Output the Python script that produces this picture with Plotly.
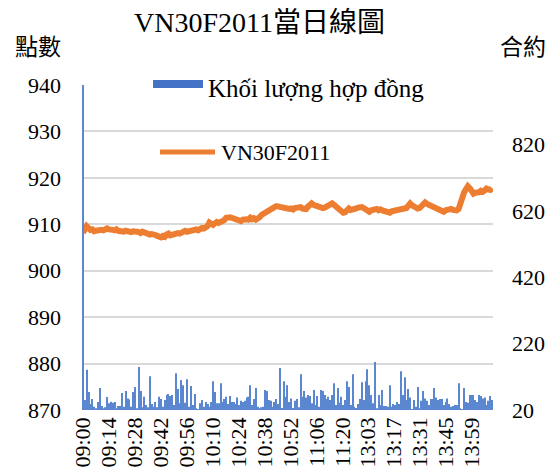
import plotly.graph_objects as go

# ---------------- data ----------------
morning = [f"{h:02d}:{m:02d}" for h in (9, 10, 11) for m in range(60) if not (h == 11 and m >= 30)]
afternoon = [f"{h:02d}:{m:02d}" for h in (13, 14) for m in range(60) if not (h == 14 and m > 10)]
times = morning + afternoon

tick_labels = ["09:00", "09:14", "09:28", "09:42", "09:56", "10:10", "10:24", "10:38",
               "10:52", "11:06", "11:20", "13:03", "13:17", "13:31", "13:45", "13:59"]

price = [
    908.2, 909.3, 909.6, 909.2, 908.8, 908.9, 908.5, 908.6, 908.7, 908.9,
    908.8, 908.7, 909.0, 909.1, 908.9, 909.0, 908.8, 908.7, 908.9, 908.6,
    908.5, 908.7, 908.4, 908.6, 908.4, 908.5, 908.3, 908.5, 908.6, 908.4,
    908.3, 908.1, 908.4, 908.2, 908.0, 907.9, 907.8, 907.9, 907.6, 907.7,
    907.5, 907.4, 907.2, 907.5, 907.3, 907.8, 908.0, 907.6, 907.8, 908.0,
    907.9, 908.1, 908.0, 908.2, 908.4, 908.6, 908.4, 908.5, 908.7, 908.6,
    908.8, 908.9, 908.7, 909.0, 909.2, 909.1, 909.4, 909.6, 910.4, 910.1,
    909.9, 910.2, 910.5, 910.3, 910.4, 910.6, 910.9, 911.4, 911.6, 911.5,
    911.4, 911.2, 911.0, 910.8, 910.9, 910.7, 911.0, 911.2, 911.1, 911.0,
    911.4, 911.1, 911.3, 911.0, 911.1, 911.5, 912.0, 912.3, 912.5, 912.7,
    913.0, 913.2, 913.5, 913.7, 913.9, 913.8, 913.6, 913.5, 913.3, 913.2,
    913.1, 913.3, 913.4, 913.2, 913.5, 913.6, 913.5, 913.7, 913.4, 913.2,
    913.3, 913.8, 914.3, 914.5, 914.2, 914.0, 913.8, 913.6, 913.7, 913.5,
    913.6, 913.9, 914.1, 914.3, 914.5, 914.2, 913.8, 913.5, 913.2, 912.8,
    912.5, 912.6, 913.0, 913.4, 913.1, 913.2, 913.0, 913.4, 913.6, 913.8,
    913.7, 913.5, 913.2, 912.9, 912.7, 913.0, 913.2, 913.4, 913.3, 913.0,
    913.2, 913.0, 912.8, 912.6, 912.4, 912.5, 912.8, 912.9, 913.1, 913.2,
    913.1, 913.3, 913.2, 913.4, 913.5, 914.0, 914.5, 914.1, 913.8, 913.6,
    913.4, 913.5, 913.8, 914.3, 914.7, 914.4, 914.2, 914.0, 913.9, 913.8,
    913.6, 913.4, 913.1, 912.9, 912.7, 913.0, 913.2, 913.4, 913.3, 913.1,
    913.0, 913.0, 913.3, 914.5, 916.3, 916.9, 917.6, 918.2, 917.8, 917.0,
    916.6, 916.8, 916.7, 916.9, 917.2, 917.0, 917.3, 917.7, 917.5, 917.4,
    917.8,
]

volume = [
    1100, 50, 141, 74, 38, 53, 30, 25, 44, 86,
    32, 25, 28, 59, 40, 45, 42, 44, 25, 32,
    32, 71, 30, 77, 55, 52, 30, 74, 89, 25,
    150, 77, 28, 60, 35, 28, 122, 38, 30, 44,
    28, 60, 53, 30, 50, 65, 68, 62, 65, 35,
    131, 83, 40, 110, 95, 42, 113, 30, 92, 35,
    68, 25, 23, 40, 50, 30, 44, 38, 30, 44,
    107, 74, 40, 40, 101, 44, 53, 60, 38, 62,
    44, 44, 38, 58, 35, 48, 44, 48, 58, 60,
    95, 35, 53, 86, 30, 25, 28, 30, 80, 77,
    50, 48, 30, 44, 53, 38, 147, 26, 107, 60,
    95, 44, 55, 26, 48, 53, 28, 128, 60, 77,
    58, 65, 62, 40, 80, 35, 62, 30, 80, 77,
    65, 53, 60, 50, 65, 101, 35, 86, 42, 60,
    35, 50, 107, 89, 35, 128, 30, 26, 38, 53,
    104, 50, 107, 143, 95, 65, 40, 165, 25, 65,
    35, 80, 32, 32, 30, 95, 30, 38, 35, 44,
    38, 137, 65, 119, 50, 83, 58, 23, 50, 30,
    89, 25, 48, 77, 55, 48, 35, 53, 53, 86,
    58, 50, 53, 53, 35, 44, 55, 38, 30, 32,
    35, 35, 101, 25, 23, 86, 44, 42, 65, 65,
    65, 50, 44, 65, 62, 55, 58, 35, 48, 62,
    50,
]

left_ticks = [870, 880, 890, 900, 910, 920, 930, 940]
right_ticks = [20, 220, 420, 620, 820]

# ---------------- layout geometry ----------------
W, H = 553, 473
L, R, T, B = 82, 493, 85, 410
SERIF = "Liberation Serif, 'Times New Roman', 'Noto Sans CJK TC', serif"
CJK = "'Noto Sans CJK TC', 'Liberation Serif', serif"

def px(x):
    return (x - L) / (R - L)

def py(y):
    return (B - y) / (B - T)

fig = go.Figure()
fig.add_trace(go.Bar(
    x=times, y=volume, yaxis="y2", name="Khối lượng hợp đồng",
    marker=dict(color="#5B86D0", line=dict(width=0)), showlegend=False,
))
fig.add_trace(go.Scatter(
    x=times, y=price, mode="lines", name="VN30F2011",
    line=dict(color="#ED7D31", width=6), showlegend=False,
))

fig.update_layout(
    width=W, height=H,
    margin=dict(l=L, r=W - R, t=T, b=H - B, autoexpand=False),
    paper_bgcolor="white", plot_bgcolor="white",
    bargap=0.45,
    font=dict(family=SERIF, color="#000000"),
    xaxis=dict(
        type="category", categoryorder="array", categoryarray=times,
        range=[-0.5, len(times) - 0.5],
        tickmode="array", tickvals=tick_labels, ticktext=tick_labels,
        tickangle=-90, tickfont=dict(size=22, family=SERIF),
        showgrid=False, showline=False, zeroline=False, ticks="",
        ticklabelstandoff=2, automargin=False,
    ),
    yaxis=dict(
        range=[870, 940], tickmode="array", tickvals=left_ticks,
        tickfont=dict(size=22, family=SERIF),
        showgrid=True, gridcolor="#D9D9D9", gridwidth=1.5,
        zeroline=False, showline=False, ticks="", ticklabelstandoff=20,
        automargin=False,
    ),
    yaxis2=dict(
        overlaying="y", side="right", range=[20, 1000],
        tickmode="array", tickvals=right_ticks,
        tickfont=dict(size=22, family=SERIF),
        showgrid=False, zeroline=False, showline=False, ticks="",
        ticklabelstandoff=18, automargin=False,
    ),
)

shapes = [
    dict(type="rect", xref="paper", yref="paper",
         x0=px(153), x1=px(203), y0=py(88), y1=py(80),
         fillcolor="#4472C4", line=dict(width=0)),
    dict(type="line", xref="paper", yref="paper",
         x0=px(160), x1=px(215), y0=py(152), y1=py(152),
         line=dict(color="#ED7D31", width=5)),
]
fig.update_layout(shapes=shapes)

annotations = [
    dict(text="VN30F2011當日線圖", x=px(259), y=py(22), xref="paper", yref="paper",
         showarrow=False, font=dict(size=28, family=SERIF), xanchor="center", yanchor="middle"),
    dict(text="點數", x=px(38), y=py(45), xref="paper", yref="paper",
         showarrow=False, font=dict(size=23, family=CJK), xanchor="center", yanchor="middle"),
    dict(text="合約", x=px(523), y=py(45), xref="paper", yref="paper",
         showarrow=False, font=dict(size=23, family=CJK), xanchor="center", yanchor="middle"),
    dict(text="Khối lượng hợp đồng", x=px(206), y=py(88), xref="paper", yref="paper",
         showarrow=False, font=dict(size=25, family=SERIF), xanchor="left", yanchor="middle"),
    dict(text="VN30F2011", x=px(219), y=py(152), xref="paper", yref="paper",
         showarrow=False, font=dict(size=22, family=SERIF), xanchor="left", yanchor="middle"),
]
fig.update_layout(annotations=annotations)

fig.write_html(
    "out.html",
    config={"displayModeBar": False},
    post_script="document.body.style.margin='0';document.body.style.overflow='hidden';",
)
